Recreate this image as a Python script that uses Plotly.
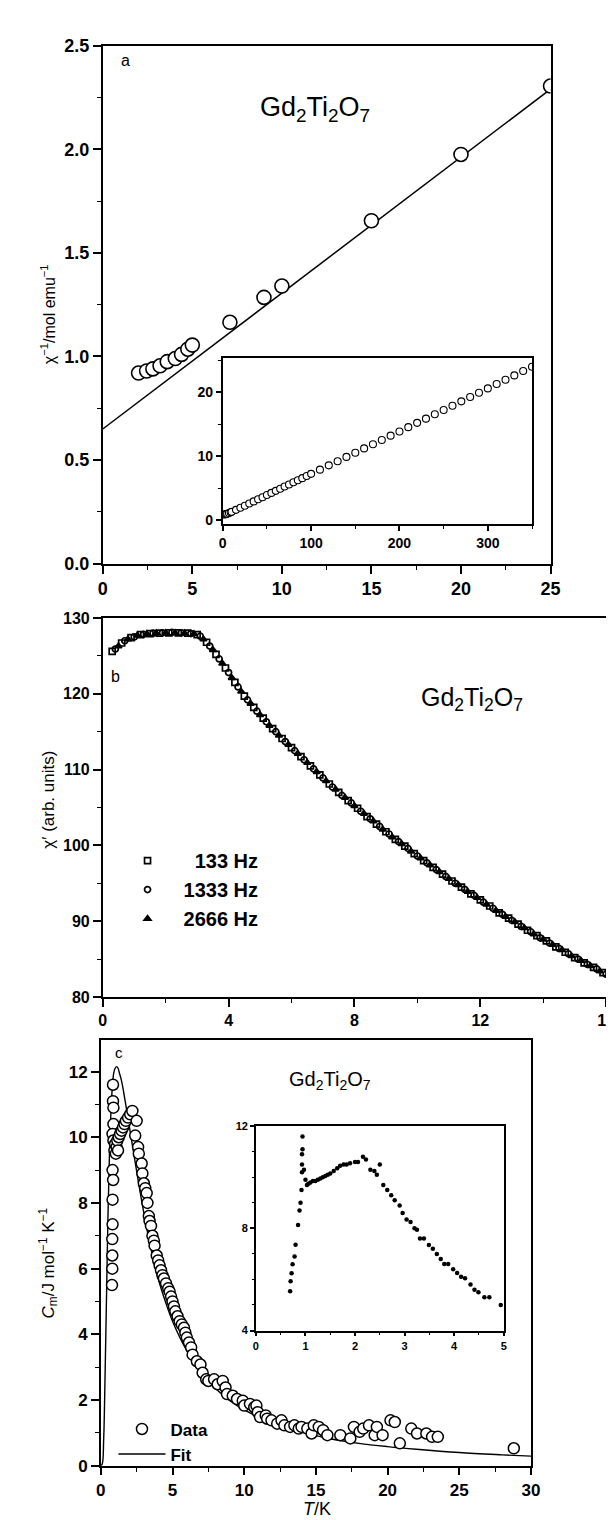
import plotly.graph_objects as go

W, H = 614, 1520

# ---------------- data ----------------
# Panel a: inverse susceptibility
a_T = [2.0, 2.45, 2.8, 3.2, 3.6, 4.05, 4.4, 4.75, 5.0, 7.1, 9.0, 10.0, 15.0, 20.0, 25.0]
a_inv_chi = [0.92, 0.93, 0.94, 0.955, 0.975, 0.99, 1.01, 1.035, 1.055, 1.165, 1.285, 1.34, 1.655, 1.975, 2.305]
a_fit_T = [0, 25]
a_fit = [0.65, 2.29]

# Panel a inset
ai_T = [2, 3, 4, 5, 7, 9, 10, 15, 20, 25, 30, 35, 40, 45, 50, 55, 60, 65, 70, 75, 80, 85, 90, 95, 100,
        110, 120, 130, 140, 150, 160, 170, 180, 190, 200, 210, 220, 230, 240, 250, 260, 270, 280, 290,
        300, 310, 320, 330, 340, 350]
ai_val = [0.92, 0.96, 1.0, 1.05, 1.16, 1.28, 1.34, 1.65, 1.98, 2.3, 2.63, 2.97, 3.3, 3.62, 3.96, 4.3, 4.62,
          4.95, 5.29, 5.61, 5.95, 6.27, 6.6, 6.94, 7.27, 7.93, 8.6, 9.25, 9.92, 10.58, 11.25, 11.9, 12.57,
          13.24, 13.9, 14.57, 15.24, 15.9, 16.58, 17.25, 17.92, 18.6, 19.27, 19.95, 20.62, 21.3, 21.97,
          22.65, 23.33, 24.0]

# Panel b: ac susceptibility
b1_T = [0.3, 0.6, 0.9, 1.2, 1.5, 1.8, 2.1, 2.4, 2.7, 3.0, 3.3, 3.6, 3.9, 4.2, 4.5, 4.8, 5.1, 5.4, 5.7, 6.0,
        6.3, 6.6, 6.9, 7.2, 7.5, 7.8, 8.1, 8.4, 8.7, 9.0, 9.3, 9.6, 9.9, 10.2, 10.5, 10.8, 11.1, 11.4, 11.7,
        12.0, 12.3, 12.6, 12.9, 13.2, 13.5, 13.8, 14.1, 14.4, 14.7, 15.0, 15.3, 15.6, 15.9]
b1_val = [125.6, 126.7, 127.4, 127.8, 127.95, 128.0, 128.05, 128.05, 128.0, 127.8, 126.8, 125.2, 123.4,
          121.5, 119.7, 118.2, 116.8, 115.4, 114.1, 112.9, 111.7, 110.5, 109.3, 108.1, 107.0, 105.9, 104.9,
          103.8, 102.8, 101.8, 100.8, 99.9, 98.9, 98.0, 97.1, 96.2, 95.3, 94.5, 93.6, 92.8, 92.0, 91.1, 90.4,
          89.6, 88.8, 88.1, 87.4, 86.6, 85.9, 85.2, 84.5, 83.9, 83.2]
b2_T = [0.4, 0.7, 1.0, 1.3, 1.6, 1.9, 2.2, 2.5, 2.8, 3.1, 3.4, 3.7, 4.0, 4.3, 4.6, 4.9, 5.2, 5.5, 5.8, 6.1,
        6.4, 6.7, 7.0, 7.3, 7.6, 7.9, 8.2, 8.5, 8.8, 9.1, 9.4, 9.7, 10.0, 10.3, 10.6, 10.9, 11.2, 11.5, 11.8,
        12.1, 12.4, 12.7, 13.0, 13.3, 13.6, 13.9, 14.2, 14.5, 14.8, 15.1, 15.4, 15.7, 16.0]
b2_val = [125.9, 127.0, 127.5, 127.85, 128.0, 128.05, 128.1, 128.05, 127.95, 127.6, 126.3, 124.6, 122.8,
          120.9, 119.2, 117.7, 116.3, 115.0, 113.7, 112.5, 111.3, 110.1, 108.9, 107.7, 106.6, 105.6, 104.5,
          103.5, 102.5, 101.5, 100.5, 99.6, 98.6, 97.7, 96.8, 95.9, 95.0, 94.2, 93.4, 92.5, 91.7, 90.9, 90.1,
          89.3, 88.6, 87.8, 87.1, 86.4, 85.7, 85.0, 84.3, 83.7, 83.0]
b3_T = [0.5, 0.8, 1.1, 1.4, 1.7, 2.0, 2.3, 2.6, 2.9, 3.2, 3.5, 3.8, 4.1, 4.4, 4.7, 5.0, 5.3, 5.6, 5.9, 6.2,
        6.5, 6.8, 7.1, 7.4, 7.7, 8.0, 8.3, 8.6, 8.9, 9.2, 9.5, 9.8, 10.1, 10.4, 10.7, 11.0, 11.3, 11.6, 11.9,
        12.2, 12.5, 12.8, 13.1, 13.4, 13.7, 14.0, 14.3, 14.6, 14.9, 15.2, 15.5, 15.8]
b3_val = [126.3, 127.2, 127.7, 127.9, 128.0, 128.05, 128.05, 128.0, 127.9, 127.2, 125.8, 124.0, 122.1,
          120.3, 118.7, 117.2, 115.8, 114.5, 113.3, 112.1, 110.9, 109.7, 108.5, 107.4, 106.3, 105.2, 104.2,
          103.2, 102.1, 101.1, 100.2, 99.2, 98.3, 97.4, 96.5, 95.6, 94.8, 93.9, 93.1, 92.2, 91.4, 90.6, 89.9,
          89.1, 88.3, 87.6, 86.9, 86.2, 85.4, 84.8, 84.1, 83.4]
b_names = ["\u2007133 Hz", "1333 Hz", "2666 Hz"]

# Panel c: magnetic specific heat
c_T = [0.85, 0.85, 0.88, 0.88, 0.82, 0.88, 0.82, 0.86, 0.82, 0.82, 0.80, 0.80, 0.80, 0.78,
       0.95, 1.0, 1.05, 1.1, 1.15, 1.25, 1.2, 1.35, 1.45, 1.55, 1.65, 1.75, 1.9, 2.05, 2.2, 2.5, 2.4,
       2.6, 2.65, 2.85, 2.9, 3.0, 3.1, 3.2, 3.25, 3.35, 3.4, 3.5, 3.6, 3.7, 3.75, 3.9, 4.0, 4.1, 4.2,
       4.3, 4.4, 4.55, 4.7, 4.8, 4.9, 5.0, 5.1, 5.2, 5.35, 5.5, 5.65, 5.8, 5.9, 6.0, 6.15, 6.3,
       6.4, 6.7, 6.95, 7.1, 7.35, 7.5, 7.9, 8.15, 8.5, 8.7, 8.8, 9.2, 9.5, 9.9, 10.0, 10.4, 10.7,
       10.85, 10.95, 11.1, 11.5, 11.6, 11.9, 12.3, 12.6, 12.8, 13.2, 13.5, 13.8, 14.0, 14.4, 14.7,
       14.85, 15.2, 15.5, 15.8, 16.7, 17.4, 17.65, 18.05, 18.3, 18.7, 19.1, 19.25, 19.65, 20.2,
       20.5, 20.85, 21.65, 22.05, 22.7, 23.1, 23.5, 28.8]
c_val = [11.6, 11.1, 10.9, 10.4, 10.1, 9.9, 9.0, 8.7, 8.1, 7.35, 6.9, 6.4, 6.0, 5.5,
         9.6, 9.8, 9.5, 9.7, 9.9, 10.0, 9.6, 10.1, 10.2, 10.3, 10.4, 10.5, 10.6, 10.7, 10.8, 10.5, 10.05,
         9.7, 9.5, 9.2, 8.9, 8.6, 8.45, 8.3, 8.0, 7.6, 7.45, 7.3, 7.0, 6.85, 6.7, 6.4, 6.25, 6.1, 5.95,
         5.8, 5.7, 5.55, 5.4, 5.3, 5.15, 5.0, 4.85, 4.7, 4.55, 4.4, 4.3, 4.2, 4.05, 3.9, 3.75, 3.6,
         3.38, 3.18, 3.08, 2.83, 2.63, 2.58, 2.63, 2.48, 2.58, 2.38, 2.18, 2.13, 2.03, 1.98, 1.83, 1.88, 1.78,
         1.83, 1.63, 1.48, 1.53, 1.43, 1.38, 1.28, 1.38, 1.23, 1.18, 1.23, 1.13, 1.18, 1.13, 0.98,
         1.23, 1.18, 1.08, 0.93, 0.93, 0.83, 1.18, 1.03, 1.13, 1.23, 0.93, 1.18, 0.93, 1.38,
         1.33, 0.68, 1.13, 0.98, 0.98, 0.88, 0.88, 0.53]
c_fit_T = [0, 0.1, 0.2, 0.3, 0.4, 0.5, 0.6, 0.7, 0.8, 0.9, 1.0, 1.1, 1.2, 1.3, 1.4, 1.5, 1.7, 2.0, 2.3,
           2.6, 3.0, 3.5, 4.0, 4.5, 5.0, 6.0, 7.0, 8.0, 9.0, 10.0, 12.0, 14.0, 16.0, 18.0, 20.0, 22.0,
           25.0, 28.0, 30.0]
c_fit = [0, 0.05, 0.8, 2.8, 5.2, 7.6, 9.4, 10.7, 11.5, 11.95, 12.1, 12.15, 12.1, 11.95, 11.8, 11.6,
         11.1, 10.3, 9.5, 8.7, 7.7, 6.6, 5.7, 5.0, 4.4, 3.5, 2.85, 2.35, 1.98, 1.7, 1.3, 1.02, 0.82, 0.68,
         0.58, 0.5, 0.4, 0.33, 0.29]

# Panel c inset
ci_T = [0.69, 0.70, 0.72, 0.74, 0.78, 0.80, 0.85, 0.88, 0.90, 0.92, 0.93, 0.93, 0.93, 0.94, 0.94,
        0.97, 1.0, 1.03, 1.06, 1.1, 1.15, 1.2, 1.25, 1.3, 1.35, 1.4, 1.45, 1.5, 1.57, 1.64, 1.7, 1.77,
        1.83, 1.9, 2.0, 2.06, 2.16, 2.22, 2.31, 2.39, 2.44, 2.5, 2.57, 2.65, 2.73, 2.8, 2.9, 2.96, 3.04,
        3.12, 3.2, 3.25, 3.31, 3.39, 3.49, 3.57, 3.65, 3.73, 3.8, 3.88, 3.98, 4.06, 4.14, 4.22, 4.33,
        4.41, 4.49, 4.61, 4.71, 4.94]
ci_val = [5.54, 5.93, 6.24, 6.59, 6.9, 7.36, 8.13, 8.7, 9.0, 9.5, 10.2, 10.5, 10.9, 11.1, 11.6,
          10.3, 9.9, 9.7, 9.75, 9.8, 9.85, 9.85, 9.9, 9.95, 10.0, 10.05, 10.1, 10.15, 10.25, 10.35, 10.45,
          10.5, 10.5, 10.55, 10.6, 10.6, 10.8, 10.7, 10.3, 10.25, 10.1, 10.5, 9.7, 9.5, 9.3, 9.1, 8.9, 8.6,
          8.35, 8.25, 8.0, 7.95, 7.6, 7.6, 7.35, 7.2, 7.0, 6.8, 6.6, 6.6, 6.4, 6.25, 6.1, 6.05, 5.8, 5.6,
          5.5, 5.3, 5.3, 5.0]

# ---------------- helpers ----------------
FONT = "Liberation Sans"


def dom_x(left, right):
    return [left / W, right / W]


def dom_y(top, bottom):
    return [1 - bottom / H, 1 - top / H]


def main_axis(domain, rng, dtick, mdtick, anchor, size, fmt=None, ticklen=8):
    d = dict(domain=domain, range=rng, dtick=dtick, tick0=0, anchor=anchor,
             showline=True, linecolor="black", linewidth=1.6, mirror=True,
             ticks="outside", ticklen=ticklen, tickwidth=1.5, tickcolor="black",
             showgrid=False, zeroline=False,
             tickfont=dict(family=FONT, size=size, color="black", weight="bold"),
             minor=dict(dtick=mdtick, ticks="outside", ticklen=ticklen * 0.55, tickwidth=1.2,
                        tickcolor="black", showgrid=False))
    if fmt:
        d["tickformat"] = fmt
    return d


def over_axis(over, side, anchor, rng, dtick, mdtick, ticklen=8):
    return dict(overlaying=over, side=side, anchor=anchor, range=rng, dtick=dtick, tick0=0,
                ticks="inside", ticklen=ticklen, tickwidth=1.5, tickcolor="black",
                showticklabels=False, showgrid=False, zeroline=False, showline=False,
                minor=dict(dtick=mdtick, ticks="inside", ticklen=ticklen * 0.55, tickwidth=1.2,
                           tickcolor="black", showgrid=False))


fig = go.Figure()

# ---- panel a ----
fig.add_trace(go.Scatter(x=a_fit_T, y=a_fit, mode="lines", line=dict(color="black", width=1.5),
                         xaxis="x", yaxis="y", showlegend=False))
fig.add_trace(go.Scatter(x=a_T, y=a_inv_chi, mode="markers",
                         marker=dict(symbol="circle", size=14, color="white",
                                     line=dict(color="black", width=1.6)),
                         xaxis="x", yaxis="y", showlegend=False))
fig.add_trace(go.Scatter(x=ai_T, y=ai_val, mode="markers",
                         marker=dict(symbol="circle", size=7, color="white",
                                     line=dict(color="black", width=1.1)),
                         xaxis="x3", yaxis="y3", showlegend=False))

# ---- panel b ----
for tt, vv, sym, nm in [(b1_T, b1_val, "square-open", b_names[0]),
                        (b2_T, b2_val, "circle-open", b_names[1]),
                        (b3_T, b3_val, "triangle-up", b_names[2])]:
    fig.add_trace(go.Scatter(x=tt, y=vv, mode="markers", name=nm,
                             marker=dict(symbol=sym, size=6, color="black",
                                         line=dict(color="black", width=1.7)),
                             xaxis="x4", yaxis="y4", legend="legend"))

# ---- panel c ----
fig.add_trace(go.Scatter(x=c_fit_T, y=c_fit, mode="lines", name="Fit", line=dict(color="black", width=1.4),
                         xaxis="x6", yaxis="y6", legend="legend2", line_shape="spline"))
fig.add_trace(go.Scatter(x=c_T, y=c_val, mode="markers", name="Data",
                         marker=dict(symbol="circle", size=11, color="white",
                                     line=dict(color="black", width=1.5)),
                         xaxis="x6", yaxis="y6", legend="legend2"))
fig.add_trace(go.Scatter(x=ci_T, y=ci_val, mode="markers",
                         marker=dict(symbol="circle", size=4.5, color="black"),
                         xaxis="x8", yaxis="y8", showlegend=False))

# ---------------- layout ----------------
ax_a = dom_x(92, 551)
ay_a = dom_y(28, 553)
ax_ai = dom_x(215, 532)
ay_ai = dom_y(345, 513)
ax_b = dom_x(92, 608)
ay_b = dom_y(608, 992)
ax_c = dom_x(90, 531)
ay_c = dom_y(1036, 1467)
ax_ci = dom_x(249, 503)
ay_ci = dom_y(1123, 1330)

layout = dict(
    width=W, height=H, margin=dict(l=0, r=0, t=0, b=0),
    paper_bgcolor="white", plot_bgcolor="white",
    font=dict(family=FONT, color="black"),
    xaxis=main_axis(ax_a, [0, 25], 5, 2.5, "y", 18),
    yaxis=main_axis(ay_a, [0, 2.5], 0.5, 0.25, "x", 18, fmt=".1f"),
    xaxis2=over_axis("x", "top", "y", [0, 25], 5, 2.5),
    yaxis2=over_axis("y", "right", "x", [0, 2.5], 0.5, 0.25),
    xaxis3=main_axis(ax_ai, [0, 350], 100, 50, "y3", 14, ticklen=5),
    yaxis3=main_axis(ay_ai, [-0.6, 25.3], 10, 5, "x3", 14, ticklen=5),
    xaxis4=main_axis(ax_b, [0, 16], 4, 2, "y4", 16),
    yaxis4=main_axis(ay_b, [80, 130], 10, 5, "x4", 16),
    xaxis5=over_axis("x4", "top", "y4", [0, 16], 4, 2),
    yaxis5=over_axis("y4", "right", "x4", [80, 130], 10, 5),
    xaxis6=main_axis(ax_c, [0, 30], 5, 2.5, "y6", 17),
    yaxis6=main_axis(ay_c, [0, 12.95], 2, 1, "x6", 17),
    xaxis7=over_axis("x6", "top", "y6", [0, 30], 5, 2.5),
    yaxis7=over_axis("y6", "right", "x6", [0, 12.95], 2, 1),
    xaxis8=main_axis(ax_ci, [0, 5], 1, 0.5, "y8", 11, ticklen=4),
    yaxis8=main_axis(ay_ci, [4, 12], 4, 1, "x8", 11, ticklen=4),
    legend=dict(x=101 / W, y=1 - 834 / H, xanchor="left", yanchor="top",
                bgcolor="rgba(0,0,0,0)", borderwidth=0, itemwidth=62,
                font=dict(family=FONT, size=20, color="black", weight="bold")),
    legend2=dict(x=103 / W, y=1 - 1412 / H, xanchor="left", yanchor="top",
                 bgcolor="rgba(0,0,0,0)", borderwidth=0, itemwidth=47,
                 traceorder="reversed",
                 font=dict(family=FONT, size=17, color="black", weight="bold")),
)
fig.update_layout(**layout)


def ann(text, xp, yp, size, angle=0, bold=False):
    fig.add_annotation(text=text, x=xp / W, y=1 - yp / H, xref="paper", yref="paper",
                       showarrow=False, textangle=angle, xanchor="center", yanchor="middle",
                       font=dict(family=FONT, size=size, color="black",
                                 weight="bold" if bold else "normal"))


formula = "Gd<sub>2</sub>Ti<sub>2</sub>O<sub>7</sub>"
ann("a", 115, 43, 16)
ann(formula, 310, 92, 27)
ann("b", 105, 667, 16)
ann(formula, 471, 690, 25)
ann("c", 109, 1048, 15)
ann(formula, 325, 1077, 20)
ann("χ<sup>−1</sup>/mol emu<sup>−1</sup>", 36, 300, 16, angle=-90)
ann("χ′ (arb. units)", 36, 792, 17, angle=-90)
ann("<i>C</i><sub>m</sub>/J mol<sup>−1</sup> K<sup>−1</sup>", 36, 1262, 17, angle=-90)
ann("<i>T</i>/K", 312, 1511, 18)

fig.write_html("out.html")
